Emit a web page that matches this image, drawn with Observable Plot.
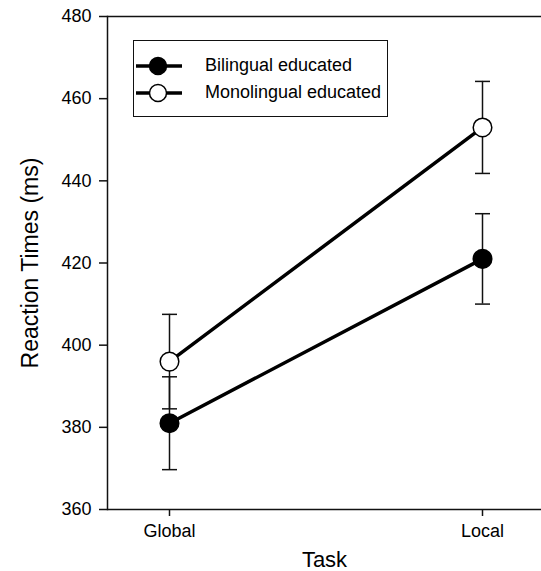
<!DOCTYPE html>
<html>
<head>
<meta charset="utf-8">
<script src="https://cdn.jsdelivr.net/npm/d3@7"></script>
<script src="https://cdn.jsdelivr.net/npm/@observablehq/plot@0.6"></script>
<style>
  body { margin: 0; background: #fff; }
  #wrap { position: relative; width: 541px; height: 571px; overflow: hidden; font-family: "Liberation Sans", Arial, sans-serif; }
  #wrap svg { position: absolute; left: 0; top: 0; }
  g[aria-label="y-axis label"] text { font-size: 23px; }
  g[aria-label="x-axis label"] text { font-size: 22px; }
  #legend { position: absolute; left: 133px; top: 40px; width: 253px; height: 75px; border: 1.5px solid #111; background: #fff; }
  .lrow { position: absolute; left: 0; height: 24px; }
  .lrow svg { position: absolute; left: 10px; top: 0; }
  .lrow span { position: absolute; left: 71px; top: 1px; font-size: 18px; white-space: nowrap; color: #000; }
</style>
</head>
<body>
<div id="wrap"><div id="legend"></div></div>
<script>
// ---- data ----
const tasks = ["Global", "Local"];
const seriesNames = ["Bilingual educated", "Monolingual educated"];
const bilingual = [381, 421];
const bilingualErr = [11.3, 11.0];
const monolingual = [396, 453];
const monolingualErr = [11.5, 11.2];
const yTicks = [360, 380, 400, 420, 440, 460, 480];
const yDomain = [360, 480];
const seriesFill = ["#000", "#fff"];

const rows = [];
tasks.forEach((t, i) => {
  rows.push({task: t, series: seriesNames[0], v: bilingual[i], e: bilingualErr[i]});
  rows.push({task: t, series: seriesNames[1], v: monolingual[i], e: monolingualErr[i]});
});

const capSymbol = {
  draw(ctx, size) {
    const w = Math.sqrt(size / Math.PI);
    ctx.moveTo(-w, 0);
    ctx.lineTo(w, 0);
  }
};

const chart = Plot.plot({
  width: 541,
  height: 571,
  marginLeft: 107,
  marginRight: 0,
  marginTop: 16,
  marginBottom: 62,
  style: {fontFamily: '"Liberation Sans", Arial, sans-serif', fontSize: "18px", color: "#000", background: "transparent"},
  x: {type: "point", domain: tasks, range: [169, 482], padding: 0},
  y: {domain: yDomain},
  color: {domain: seriesNames, range: seriesFill},
  marks: [
    Plot.frame({anchor: "left", stroke: "#111", strokeWidth: 1.5}),
    Plot.ruleY(yDomain, {stroke: "#111", strokeWidth: 1.5}),
    Plot.axisY(yTicks, {tickSize: 8, tickPadding: 8, stroke: "#111", strokeWidth: 1.5,
      label: "Reaction Times (ms)", labelAnchor: "center", labelOffset: 86, labelArrow: "none"}),
    Plot.axisX({tickSize: 7, tickPadding: 8, stroke: "#111", strokeWidth: 1.5,
      label: "Task", labelAnchor: "center", labelOffset: 57, labelArrow: "none"}),
    Plot.ruleX(rows, {x: "task", y1: d => d.v - d.e, y2: d => d.v + d.e, stroke: "#111", strokeWidth: 1.5}),
    Plot.dot(rows, {x: "task", y: d => d.v + d.e, symbol: capSymbol, r: 7.5, stroke: "#111", strokeWidth: 1.5, fill: "none"}),
    Plot.dot(rows, {x: "task", y: d => d.v - d.e, symbol: capSymbol, r: 7.5, stroke: "#111", strokeWidth: 1.5, fill: "none"}),
    Plot.line(rows, {x: "task", y: "v", z: "series", stroke: "#000", strokeWidth: 3.5}),
    Plot.dot(rows, {x: "task", y: "v", r: 9.3, fill: "series", stroke: "#000", strokeWidth: 1.5})
  ]
});
document.getElementById("wrap").prepend(chart);

// ---- legend ----
const legend = d3.select("#legend");
seriesNames.forEach((name, i) => {
  const row = legend.append("div").attr("class", "lrow").style("top", (13 + i * 27) + "px").style("width", "250px");
  const svg = row.append("svg").attr("width", 52).attr("height", 24);
  svg.append("line").attr("x1", 2).attr("x2", 48).attr("y1", 12).attr("y2", 12).attr("stroke", "#000").attr("stroke-width", 3.5);
  svg.append("circle").attr("cx", 24).attr("cy", 12).attr("r", 8.5).attr("fill", seriesFill[i]).attr("stroke", "#000").attr("stroke-width", 1.5);
  row.append("span").text(name);
});
</script>
</body>
</html>
